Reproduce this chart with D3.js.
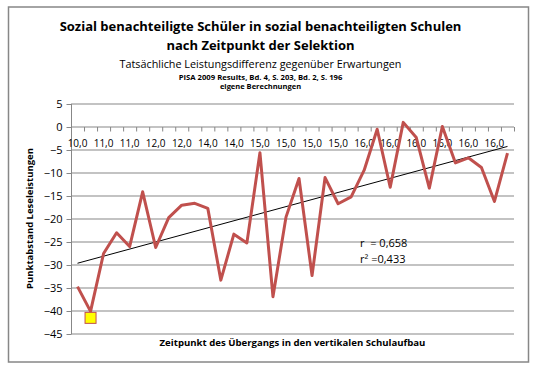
<html>
<head>
    <script src="https://d3js.org/d3.v7.min.js"></script>
    <style>
        body { margin: 0; background: #fff; }
        text { font-family: "Open Sans", sans-serif; fill: #000; }
        .b { font-weight: bold; }
    </style>
</head>
<body>
    <svg class="chart" width="539" height="383"></svg>

    <script>

      // displayed category labels (every second category carries a label)
      var xLabels = ["10,0", "11,0", "11,0", "12,0", "12,0", "14,0", "14,0", "15,0", "15,0",
                     "15,0", "15,0", "16,0", "16,0", "16,0", "16,0", "16,0", "16,0"];

      // Punktabstand Leseleistungen, one value per category
      var values = [-34.8, -40.2, -27.6, -23.1, -26.1, -14.2, -26.3, -19.8, -17.1, -16.7,
                    -17.8, -33.4, -23.4, -25.3, -5.7, -37.0, -19.7, -11.3, -32.4, -11.1,
                    -16.8, -15.3, -9.5, -0.6, -13.2, 0.9, -2.4, -13.4, 0.0, -7.9,
                    -6.8, -8.9, -16.3, -5.8];

      // highlighted point (index, value)
      var highlight = [{i: 1, v: -41.6}];

      var yTicks = [5, 0, -5, -10, -15, -20, -25, -30, -35, -40, -45];
      var stats = ["r  = 0,658", "r² =0,433"];

      var svg = d3.select("svg");
      var red = "#c0504d", grid = "#878787";

      var pL = 71, pR = 514, pT = 103.5, pB = 333.5;

      var x = d3.scaleBand()
        .domain(d3.range(values.length))
        .range([pL, pR]);
      var cx = i => x(i) + x.bandwidth() / 2;

      var y = d3.scaleLinear()
        .domain([-45, 5])
        .range([pB, pT]);

      // outer frame
      svg.append("rect")
        .attr("x", 8.5).attr("y", 7).attr("width", 520).attr("height", 355)
        .attr("fill", "#fff").attr("stroke", grid).attr("stroke-width", 1.5);

      // titles
      var titles = [
        {t: "Sozial benachteiligte Schüler in sozial benachteiligten Schulen", y: 30.5, s: 13, b: 1},
        {t: "nach Zeitpunkt der Selektion", y: 50, s: 13, b: 1},
        {t: "Tatsächliche Leistungsdifferenz gegenüber Erwartungen", y: 68, s: 10.8, b: 0},
        {t: "PISA 2009 Results, Bd. 4, S. 203, Bd. 2, S. 196", y: 79.5, s: 7.7, b: 1},
        {t: "eigene Berechnungen", y: 89, s: 7.5, b: 1}
      ];
      svg.selectAll(".title").data(titles).enter().append("text")
        .attr("class", d => d.b ? "title b" : "title")
        .attr("x", 260.5).attr("y", d => d.y)
        .attr("text-anchor", "middle")
        .style("font-size", d => d.s + "px")
        .text(d => d.t);

      // horizontal gridlines
      svg.append("g").selectAll("line").data(yTicks).enter().append("line")
        .attr("x1", pL).attr("x2", pR)
        .attr("y1", d => y(d) + 0.5).attr("y2", d => y(d) + 0.5)
        .attr("stroke", grid);

      // y axis
      var yAxis = d3.axisLeft(y).tickValues(yTicks).tickSize(5).tickPadding(4);
      var ya = svg.append("g").attr("transform", "translate(" + (pL + 0.5) + ",0.5)").call(yAxis);
      ya.select(".domain").attr("stroke", grid).attr("d", "M0," + pT + "V" + pB);
      ya.selectAll(".tick line").attr("stroke", grid);
      ya.selectAll(".tick text").style("font-size", "11px").style("font-family", "Open Sans").attr("fill", "#000");

      // category axis at y = 0
      var y0 = y(0) + 0.5;
      svg.append("g").selectAll("line").data(d3.range(values.length + 1)).enter().append("line")
        .attr("x1", i => (i < values.length ? x(i) : pR) + 0.5)
        .attr("x2", i => (i < values.length ? x(i) : pR) + 0.5)
        .attr("y1", y0).attr("y2", y0 + 4.5)
        .attr("stroke", grid);

      svg.append("g").selectAll("text").data(xLabels).enter().append("text")
        .attr("x", (d, k) => cx(k * 2))
        .attr("y", y0 + 20)
        .attr("text-anchor", "middle")
        .style("font-size", "10px")
        .text(d => d);

      // linear trend over category index
      var n = values.length;
      var mi = (n - 1) / 2, mv = d3.mean(values);
      var slope = d3.sum(values, (v, i) => (i - mi) * (v - mv)) / d3.sum(values, (v, i) => (i - mi) * (i - mi));
      var icpt = mv - slope * mi;
      svg.append("line")
        .attr("x1", cx(0)).attr("y1", y(icpt))
        .attr("x2", cx(n - 1)).attr("y2", y(icpt + slope * (n - 1)))
        .attr("stroke", "#000").attr("stroke-width", 1);

      // data line
      var line = d3.line().x((d, i) => cx(i)).y(d => y(d));
      svg.append("path")
        .datum(values)
        .attr("d", line)
        .attr("fill", "none")
        .attr("stroke", red)
        .attr("stroke-width", 3)
        .attr("stroke-linejoin", "round");

      // highlighted marker
      svg.selectAll(".hl").data(highlight).enter().append("rect")
        .attr("class", "hl")
        .attr("x", d => cx(d.i) - 5.5).attr("y", d => y(d.v) - 5.5)
        .attr("width", 11).attr("height", 11)
        .attr("fill", "#ffff00").attr("stroke", red).attr("stroke-width", 1);

      // correlation text
      svg.selectAll(".st").data(stats).enter().append("text")
        .attr("class", "st")
        .attr("x", 360).attr("y", (d, i) => 247 + i * 15.5)
        .style("font-size", "11px")
        .style("white-space", "pre")
        .text(d => d);

      // axis titles
      svg.append("text").attr("class", "b")
        .attr("x", (pL + pR) / 2).attr("y", 346)
        .attr("text-anchor", "middle")
        .style("font-size", "9.6px")
        .text("Zeitpunkt des Übergangs in den vertikalen Schulaufbau");

      svg.append("text").attr("class", "b")
        .attr("transform", "translate(33,218.5) rotate(-90)")
        .attr("text-anchor", "middle")
        .style("font-size", "9.5px")
        .text("Punktabstand Leseleistungen");

    </script>
</body>
</html>
